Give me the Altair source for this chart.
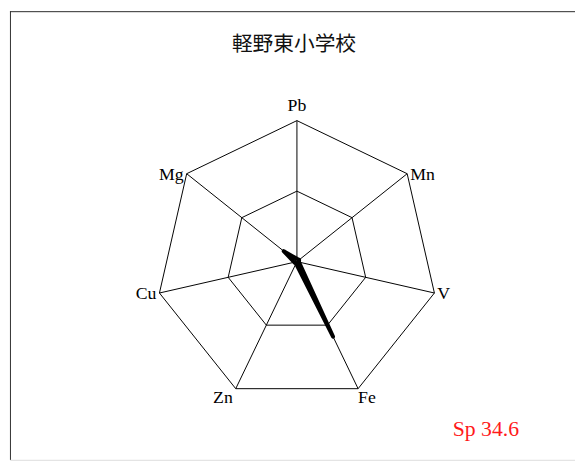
import altair as alt
import pandas as pd

# ---- data ----
elements = ["Pb", "Mn", "V", "Fe", "Zn", "Cu", "Mg"]
values = [0.02, 0.02, 0.015, 0.59, 0.015, 0.02, 0.12]
ring_levels = [0.5, 1.0]
title_text = "軽野東小学校"
note_text = "Sp 34.6"

n = len(elements)
pts = pd.DataFrame({"element": elements, "idx": list(range(n)), "value": values})
rings = pd.DataFrame(
    [{"level": lv, "idx": i} for lv in ring_levels for i in range(n)]
)

ang = f"datum.idx * 2 * PI / {n}"

xs = alt.Scale(domain=[-1, 1], range=[148, 434])
ys = alt.Scale(domain=[-1, 1], range=[397, 111])

ring_layer = (
    alt.Chart(rings)
    .transform_calculate(
        x=f"datum.level * sin({ang})", y=f"datum.level * cos({ang})"
    )
    .mark_line(interpolate="linear-closed", color="black", strokeWidth=1)
    .encode(
        x=alt.X("x:Q", scale=xs, axis=None),
        y=alt.Y("y:Q", scale=ys, axis=None),
        detail="level:N",
        order="idx:Q",
    )
)

spoke_layer = (
    alt.Chart(pts)
    .transform_calculate(
        x=f"sin({ang})", y=f"cos({ang})", cx="0", cy="0"
    )
    .mark_rule(color="black", strokeWidth=1)
    .encode(
        x=alt.X("x:Q", scale=xs, axis=None),
        y=alt.Y("y:Q", scale=ys, axis=None),
        x2="cx:Q",
        y2="cy:Q",
    )
)

data_layer = (
    alt.Chart(pts)
    .transform_calculate(
        x=f"datum.value * sin({ang})", y=f"datum.value * cos({ang})"
    )
    .mark_line(
        interpolate="linear-closed", color="black", strokeWidth=4,
        strokeJoin="round",
    )
    .encode(
        x=alt.X("x:Q", scale=xs, axis=None),
        y=alt.Y("y:Q", scale=ys, axis=None),
        order="idx:Q",
    )
)

label_base = alt.Chart(pts).transform_calculate(
    x=f"sin({ang})", y=f"cos({ang})"
)
lab_font = dict(font="Liberation Serif", fontSize=18, color="black")
enc = dict(
    x=alt.X("x:Q", scale=xs, axis=None),
    y=alt.Y("y:Q", scale=ys, axis=None),
    text="element:N",
)
lab_top = label_base.transform_filter("datum.y > 0.9").mark_text(
    align="center", baseline="bottom", dy=-6, **lab_font
).encode(**enc)
lab_right = label_base.transform_filter("datum.x > 0.5").mark_text(
    align="left", baseline="middle", dx=3, dy=1, **lab_font
).encode(**enc)
lab_left = label_base.transform_filter("datum.x < -0.5").mark_text(
    align="right", baseline="middle", dx=-3, dy=1, **lab_font
).encode(**enc)
lab_br = label_base.transform_filter(
    "datum.y < -0.5 && datum.x > 0 && datum.x <= 0.5"
).mark_text(align="left", baseline="top", dx=0, dy=1, **lab_font).encode(**enc)
lab_bl = label_base.transform_filter(
    "datum.y < -0.5 && datum.x < 0 && datum.x >= -0.5"
).mark_text(align="right", baseline="top", dx=-3, dy=1, **lab_font).encode(**enc)

title_layer = (
    alt.Chart(pd.DataFrame({"t": [title_text]}))
    .mark_text(
        font="Noto Sans CJK JP", fontSize=21, color="#111111",
        align="center", baseline="middle",
    )
    .encode(x=alt.value(288), y=alt.value(34), text="t:N")
)
note_layer = (
    alt.Chart(pd.DataFrame({"t": [note_text]}))
    .mark_text(
        font="Liberation Serif", fontSize=22, color="#ff1a1a",
        align="left", baseline="middle",
    )
    .encode(x=alt.value(449), y=alt.value(424), text="t:N")
)

# frame: only left and top edges are visible in the reference
frame_left = (
    alt.Chart(pd.DataFrame({"k": [0]}))
    .mark_rule(color="#333333", strokeWidth=1)
    .encode(x=alt.value(0.5), y=alt.value(0), y2=alt.value(455))
)
frame_top = (
    alt.Chart(pd.DataFrame({"k": [0]}))
    .mark_rule(color="#333333", strokeWidth=1)
    .encode(x=alt.value(0), x2=alt.value(573), y=alt.value(0.5))
)

chart = (
    alt.layer(
        ring_layer, spoke_layer, data_layer,
        lab_top, lab_right, lab_left, lab_br, lab_bl,
        title_layer, note_layer, frame_left, frame_top,
    )
    .properties(
        width=573, height=455,
        autosize=alt.AutoSizeParams(type="none"),
        padding={"left": 2, "top": 0, "right": 0, "bottom": 0},
    )
    .configure_view(strokeWidth=0)
    .configure(background="white")
)

chart.save("out.html", embed_options={"renderer": "svg", "actions": False})
